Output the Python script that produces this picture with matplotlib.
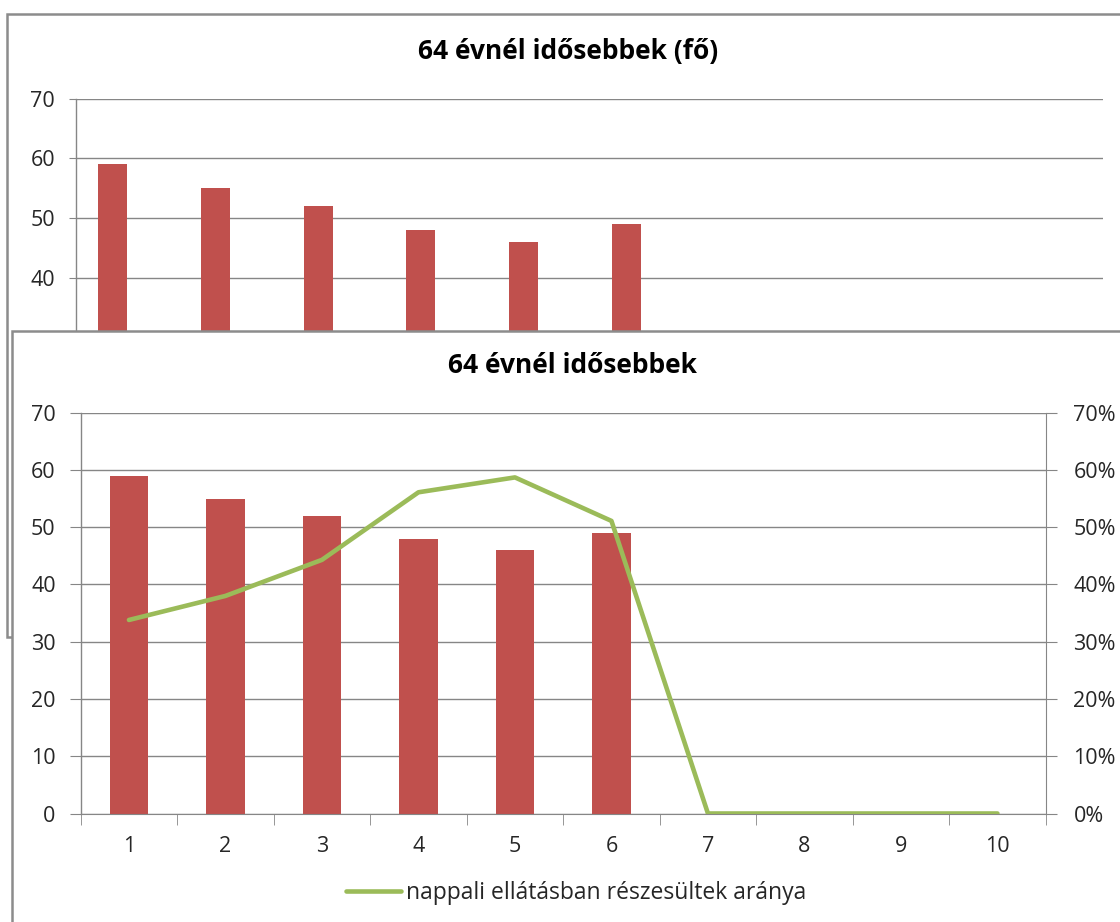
import numpy as np
import matplotlib.pyplot as plt
from matplotlib.patches import Rectangle
from matplotlib.ticker import FuncFormatter, FixedLocator

# ---- data ----
categories = [1, 2, 3, 4, 5, 6, 7, 8, 9, 10]
idosek_fo = [59, 55, 52, 48, 46, 49]
nappali_arany = [0.338, 0.38, 0.443, 0.561, 0.587, 0.511, 0, 0, 0, 0]

title_back = "64 évnél idősebbek (fő)"
title_front = "64 évnél idősebbek"
legend_label = "nappali ellátásban részesültek aránya"

BAR = "#C0504D"
LINE = "#9BBB59"
GRID = "#868686"
FRAME = "#8C8C8C"

plt.rcParams['font.family'] = ['Open Sans', 'DejaVu Sans']

W, H = 1120, 922
fig = plt.figure(figsize=(W / 100, H / 100), dpi=100, facecolor='white')


def rect(x0, y0, x1, y1):
    # pixel box (top-left origin) -> figure fraction rect
    return [x0 / W, 1 - y1 / H, (x1 - x0) / W, (y1 - y0) / H]


def style_axes(ax, ticklen):
    for s in ['top', 'right', 'bottom']:
        ax.spines[s].set_visible(False)
    ax.spines['left'].set_color(GRID)
    ax.spines['left'].set_linewidth(1.0)
    ax.yaxis.grid(True, color=GRID, linewidth=1.0)
    ax.set_axisbelow(True)
    ax.tick_params(axis='y', length=ticklen, color=GRID, labelsize=15.5,
                   labelcolor='#262626', pad=10)


# ---- background chart (partly hidden) ----
fig.add_artist(Rectangle((7 / W, 1 - 637 / H), 1.2, (637 - 13.6) / H,
                         transform=fig.transFigure, facecolor='white',
                         edgecolor=FRAME, linewidth=1.8, zorder=-2))
axb = fig.add_axes(rect(76, 98.7, 1103, 516.4))
axb.set_zorder(-1)
axb.patch.set_visible(False)
w_b = 0.282
axb.bar(np.array(categories[:len(idosek_fo)]) - w_b / 2, idosek_fo, width=w_b,
        color=BAR, zorder=2)
axb.bar(np.array(categories) + w_b / 2, nappali_arany, width=w_b,
        color=LINE, zorder=2)
axb.set_xlim(0.5, 10.5)
axb.set_ylim(0, 70)
# only the upper part of this chart is visible
axb.set_yticks(range(40, 71, 10))
axb.set_xticks([])
style_axes(axb, 5)
fig.text(568 / W, 1 - 51 / H, title_back, ha='center', va='center',
         fontsize=19, fontweight='bold', color='black', zorder=-1)

# ---- front chart ----
fig.add_artist(Rectangle((12 / W, -0.1), 1.2, 0.1 + (922 - 330.7) / H,
                         transform=fig.transFigure, facecolor='white',
                         edgecolor=FRAME, linewidth=1.8, zorder=1))
ax = fig.add_axes(rect(80.7, 412.7, 1045.7, 813.5))
ax.set_zorder(2)
ax.patch.set_visible(False)
w_f = 0.4
ax.bar(categories[:len(idosek_fo)], idosek_fo, width=w_f, color=BAR, zorder=2)
ax.set_xlim(0.5, 10.5)
ax.set_ylim(0, 70)
ax.set_yticks(range(0, 71, 10))
style_axes(ax, 8)
ax.spines['bottom'].set_visible(True)
ax.spines['bottom'].set_color(GRID)
ax.set_xticks(categories)
ax.xaxis.set_minor_locator(FixedLocator(np.arange(0.5, 11, 1)))
ax.tick_params(axis='x', which='major', length=0, pad=16, labelsize=15.5,
               labelcolor='#262626')
ax.tick_params(axis='x', which='minor', length=8, color=GRID, direction='out')

ax2 = ax.twinx()
ax2.set_zorder(3)
ax2.patch.set_visible(False)
ax2.plot(categories, nappali_arany, color=LINE, linewidth=3.3,
         solid_capstyle='round', solid_joinstyle='round', label=legend_label)
ax2.set_ylim(0, 0.7)
ax2.set_yticks(np.arange(0, 0.71, 0.1))
ax2.yaxis.set_major_formatter(FuncFormatter(lambda v, p: f"{v * 100:.0f}%"))
for s in ['top', 'left', 'bottom']:
    ax2.spines[s].set_visible(False)
ax2.spines['right'].set_color(GRID)
ax2.tick_params(axis='y', length=8, color=GRID, labelsize=15.5,
                labelcolor='#262626', pad=12)

fig.text(573 / W, 1 - 365 / H, title_front, ha='center', va='center',
         fontsize=19, fontweight='bold', color='black', zorder=4)

leg = ax2.legend(loc='center', bbox_to_anchor=(576 / W, 1 - 893 / H),
                 bbox_transform=fig.transFigure, frameon=False, fontsize=16.5,
                 handlelength=2.4, handletextpad=0.25, labelcolor='#262626')

fig.savefig("out.png", dpi=100, facecolor='white')
